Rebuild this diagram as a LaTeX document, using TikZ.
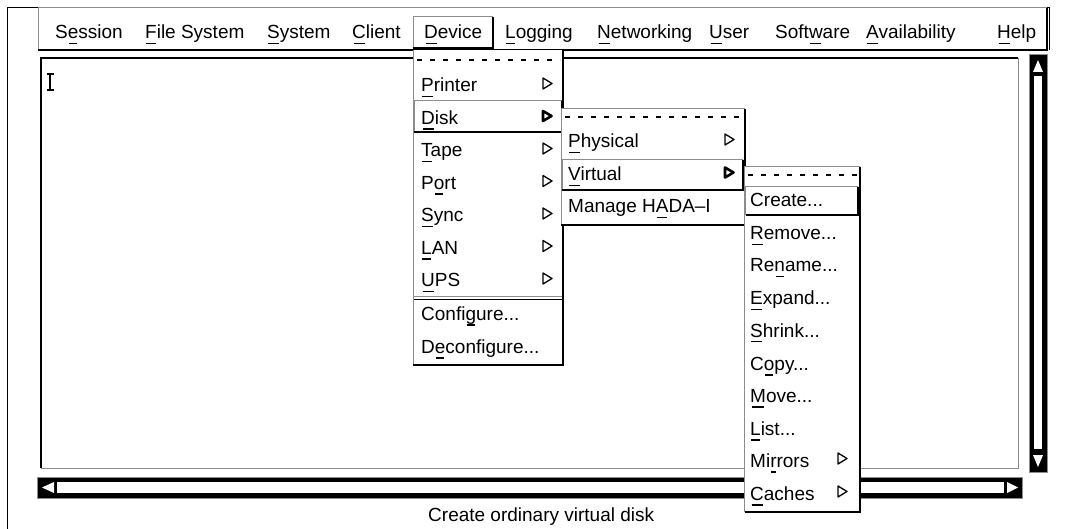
\documentclass[tikz,border=0pt]{standalone}
\usepackage{fontspec}
\setmainfont{Liberation Sans}
\newsavebox\mnbox
\newcommand{\mn}[1]{\sbox\mnbox{#1}\rlap{\hspace{.1\wd\mnbox}\rule[-5.5pt]{.8\wd\mnbox}{1.5pt}}#1}
\tikzset{
  sub/.pic={\draw[arr] (0,-14) -- (9,-8.5) -- (0,-3) -- cycle;},
  subon/.pic={\draw[arr, line width=2.6pt] (0,-13.5) -- (8.5,-8.5) -- (0,-3.5) -- cycle;}
}
\begin{document}
\begin{tikzpicture}[x=1pt, y=-1pt,
    item/.style={anchor=base west, inner sep=0pt, font=\fontsize{19}{23}\selectfont},
    lite/.style={draw=black!45, line width=1pt},
    shade/.style={draw=black, line width=2pt},
    tear/.style={draw=black, line width=1.6pt, dash pattern=on 5pt off 8pt},
    arr/.style={draw=black, line width=1.3pt, fill=white, line join=round}]
    \useasboundingbox (0,0) rectangle (1068,529);

    % window frame and menu bar
    \draw[line width=1pt] (7,529) -- (7,8) -- (1049,8) -- (1049,50);
    \draw[lite] (38,50) -- (38,8) -- (1047,8);
    \draw[shade] (1047,8) -- (1047,50) -- (38,50);

    % text area with cursor
    \draw[lite] (41,468) -- (1018,468) -- (1018,58);
    \draw[shade] (41,468) -- (41,58) -- (1018,58);
    \draw[line width=1.1pt] (46.5,74) -- (53.5,74) (50,74) -- (50,90) (46.5,90) -- (53.5,90);

    % vertical scrollbar
    \fill (1029,55) rectangle (1047,472);
    \fill[white] (1034,76) rectangle (1042,449);
    \fill[white] (1038,60) -- (1043,72) -- (1033,72) -- cycle;
    \fill[white] (1038,467) -- (1043,455) -- (1033,455) -- cycle;
    \draw[lite] (1029,55) rectangle (1047,472);

    % horizontal scrollbar
    \fill (37,477) rectangle (1022,498);
    \fill[white] (57,482) rectangle (1004,493);
    \fill[white] (42,487.5) -- (54,482) -- (54,493) -- cycle;
    \fill[white] (1018,487.5) -- (1007,482) -- (1007,493) -- cycle;
    \draw[lite] (37,477) rectangle (1022,498);

    % status line
    \node[item] (status) at (428,521) {Create ordinary virtual disk};

    % Labels for the menu bar
    \draw[lite] (413,48) -- (413,17) -- (493,17);
    \draw[shade] (493,17) -- (493,48) -- (413,48);
    \node[item] (session) at (55,39) {S\mn{e}ssion};
    \node[item] (filesys) at (145,39) {\mn{F}ile System};
    \node[item] (system) at (267,39) {\mn{S}ystem};
    \node[item] (client) at (352,39) {\mn{C}lient};
    \node[item] (device) at (424,39) {\mn{D}evice};
    \node[item] (logging) at (505,39) {\mn{L}ogging};
    \node[item] (network) at (597,39) {\mn{N}etworking};
    \node[item] (user) at (709,39) {\mn{U}ser};
    \node[item] (software) at (775,39) {Soft\mn{w}are};
    \node[item] (avail) at (866,39) {\mn{A}vailability};
    \node[item] (help) at (997,39) {\mn{H}elp};

    % Device menu
    \fill[white] (413,50) rectangle (563,365);
    \draw[lite] (413,365) -- (413,50);
    \draw[shade] (563,50) -- (563,365) -- (413,365);
    \draw[tear] (417,60) -- (560,60);
    \draw[lite] (414,132) -- (414,101) -- (562,101);
    \draw[shade] (562,101) -- (562,132) -- (414,132);
    \draw[black!45, line width=1pt] (414,297) -- (562,297);
    \draw[line width=1.3pt] (414,299.5) -- (562,299.5);
    \node[item] (printer) at (421,92) {\mn{P}rinter};
    \node[item] (disk) at (421,124.5) {\mn{D}isk};
    \node[item] (tape) at (421,157) {\mn{T}ape};
    \node[item] (port) at (421,189.5) {P\mn{o}rt};
    \node[item] (sync) at (421,222) {\mn{S}ync};
    \node[item] (lan) at (421,254.5) {\mn{L}AN};
    \node[item] (ups) at (421,287) {\mn{U}PS};
    \node[item] (config) at (421,320) {Confi\mn{g}ure...};
    \node[item] (deconfig) at (421,353) {D\mn{e}configure...};
    \pic at (543,92) {sub};
    \pic at (543,124.5) {subon};
    \pic at (543,157) {sub};
    \pic at (543,189.5) {sub};
    \pic at (543,222) {sub};
    \pic at (543,254.5) {sub};
    \pic at (543,287) {sub};

    % Disk submenu
    \fill[white] (561,109) rectangle (745,225);
    \draw[lite] (561,225) -- (561,109) -- (745,109);
    \draw[shade] (745,109) -- (745,225) -- (561,225);
    \draw[tear] (565,117) -- (742,117);
    \draw[lite] (562,190) -- (562,160) -- (743,160);
    \draw[shade] (743,160) -- (743,190) -- (562,190);
    \node[item] (physical) at (568,148) {\mn{P}hysical};
    \node[item] (virtual) at (568,181) {\mn{V}irtual};
    \node[item] (hada) at (568,213) {Manage H\mn{A}DA--I};
    \pic at (725,148) {sub};
    \pic at (725,181) {subon};

    % Virtual submenu
    \fill[white] (744.5,167) rectangle (860,512);
    \draw[lite] (744.5,512) -- (744.5,167) -- (860,167);
    \draw[shade] (860,167) -- (860,512) -- (744.5,512);
    \draw[tear] (748,175) -- (857,175);
    \draw[lite] (745.5,215) -- (745.5,187) -- (858,187);
    \draw[shade] (858,187) -- (858,215) -- (745.5,215);
    \node[item] (create) at (750,207) {Create...};
    \node[item] (remove) at (750,240) {\mn{R}emove...};
    \node[item] (rename) at (750,272) {Re\mn{n}ame...};
    \node[item] (expand) at (750,305) {\mn{E}xpand...};
    \node[item] (shrink) at (750,337) {\mn{S}hrink...};
    \node[item] (copy) at (750,370) {C\mn{o}py...};
    \node[item] (move) at (750,402) {\mn{M}ove...};
    \node[item] (list) at (750,435) {\mn{L}ist...};
    \node[item] (mirrors) at (750,467) {Mi\mn{r}rors};
    \node[item] (caches) at (750,500) {\mn{C}aches};
    \pic at (838,467) {sub};
    \pic at (838,500) {sub};
\end{tikzpicture}
\end{document}
